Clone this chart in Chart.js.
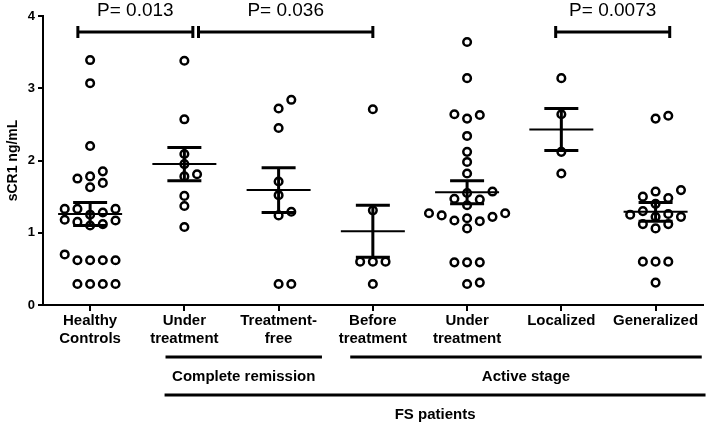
<!DOCTYPE html>
<html>
<head>
<meta charset="utf-8">
<script src="https://cdn.jsdelivr.net/npm/chart.js@4/dist/chart.umd.min.js"></script>
<style>
  body { margin: 0; background: #fff; }
  canvas { display: block; }
</style>
</head>
<body>
<canvas id="c" width="709" height="424"></canvas>
<script>
// sCR1 dot plot, mean +/- SEM per group

var xLabels = [
    ['Healthy', 'Controls'],
    ['Under', 'treatment'],
    ['Treatment-', 'free'],
    ['Before', 'treatment'],
    ['Under', 'treatment'],
    ['Localized'],
    ['Generalized']
];

var healthy = [3.39, 3.07, 2.20, 1.85, 1.78, 1.75, 1.69, 1.63, 1.33, 1.33, 1.33, 1.28, 1.25, 1.18, 1.17, 1.15, 1.12, 1.10, 0.70, 0.62, 0.62, 0.62, 0.62, 0.29, 0.29, 0.29, 0.29];
var crUnder = [3.38, 2.57, 2.09, 1.95, 1.81, 1.78, 1.51, 1.37, 1.08];
var crFree = [2.84, 2.72, 2.45, 1.71, 1.52, 1.29, 1.24, 0.29, 0.29];
var asBefore = [2.71, 1.31, 0.60, 0.60, 0.60, 0.29];
var asUnder = [3.64, 3.14, 2.64, 2.63, 2.58, 2.34, 2.12, 1.98, 1.82, 1.57, 1.55, 1.47, 1.46, 1.38, 1.27, 1.27, 1.24, 1.22, 1.20, 1.17, 1.16, 1.06, 0.59, 0.59, 0.59, 0.31, 0.29];
var localized = [3.14, 2.64, 2.12, 1.82];
var generalized = [2.62, 2.58, 1.59, 1.57, 1.50, 1.48, 1.40, 1.30, 1.26, 1.25, 1.22, 1.22, 1.12, 1.12, 1.06, 0.60, 0.60, 0.60, 0.31];

var groups = [healthy, crUnder, crFree, asBefore, asUnder, localized, generalized];
var means = [1.26, 1.95, 1.59, 1.02, 1.56, 2.43, 1.29];
var sems = [0.16, 0.23, 0.31, 0.36, 0.16, 0.29, 0.13];

var yTicks = [0, 1, 2, 3, 4];

var brackets = [
    { from: -0.13, to: 1.09, y: 3.78, text: 'P= 0.013' },
    { from: 1.15, to: 3.0, y: 3.78, text: 'P= 0.036' },
    { from: 4.94, to: 6.15, y: 3.78, text: 'P= 0.0073' }
];

var groupBars = [
    { from: 0.80, to: 2.46, row: 0, text: 'Complete remission' },
    { from: 2.76, to: 6.49, row: 0, text: 'Active stage' },
    { from: 0.79, to: 6.53, row: 1, text: 'FS patients' }
];

var FONT = "'Liberation Sans', Arial, sans-serif";

var meanPlugin = {
    id: 'meanSem',
    afterDatasetsDraw: function (chart) {
        var ctx = chart.ctx, xs = chart.scales.x, ys = chart.scales.y;
        ctx.save();
        ctx.strokeStyle = '#000';
        means.forEach(function (m, i) {
            var cx = xs.getPixelForValue(i);
            var pm = ys.getPixelForValue(m);
            var hi = ys.getPixelForValue(m + sems[i]);
            var lo = ys.getPixelForValue(m - sems[i]);
            ctx.lineWidth = 2;
            ctx.beginPath();
            ctx.moveTo(cx - 32, pm); ctx.lineTo(cx + 32, pm);
            ctx.stroke();
            ctx.lineWidth = 3;
            ctx.beginPath();
            ctx.moveTo(cx, hi); ctx.lineTo(cx, lo);
            ctx.moveTo(cx - 17, hi); ctx.lineTo(cx + 17, hi);
            ctx.moveTo(cx - 17, lo); ctx.lineTo(cx + 17, lo);
            ctx.stroke();
        });
        ctx.restore();
    },
    afterDraw: function (chart) {
        var ctx = chart.ctx, xs = chart.scales.x, ys = chart.scales.y;
        var base = chart.chartArea.bottom;
        ctx.save();
        ctx.strokeStyle = '#000';
        ctx.fillStyle = '#000';
        ctx.lineWidth = 3;
        ctx.textAlign = 'center';
        ctx.textBaseline = 'middle';

        // significance brackets
        ctx.font = '19px ' + FONT;
        brackets.forEach(function (b) {
            var x1 = xs.getPixelForValue(b.from), x2 = xs.getPixelForValue(b.to);
            var py = ys.getPixelForValue(b.y);
            ctx.beginPath();
            ctx.moveTo(x1, py); ctx.lineTo(x2, py);
            ctx.moveTo(x1, py - 6); ctx.lineTo(x1, py + 6);
            ctx.moveTo(x2, py - 6); ctx.lineTo(x2, py + 6);
            ctx.stroke();
            ctx.fillText(b.text, (x1 + x2) / 2, py - 21);
        });

        // grouping lines under the axis
        ctx.font = 'bold 15px ' + FONT;
        groupBars.forEach(function (g) {
            var x1 = xs.getPixelForValue(g.from), x2 = xs.getPixelForValue(g.to);
            var ly = base + 52 + g.row * 38;
            ctx.beginPath();
            ctx.moveTo(x1, ly); ctx.lineTo(x2, ly);
            ctx.stroke();
            ctx.fillText(g.text, (x1 + x2) / 2, ly + 20);
        });
        ctx.restore();
    }
};

var datasets = groups.map(function (vals, i) {
    return {
        data: vals.map(function (v) { return { x: i, y: v }; }),
        pointRadius: 3.8,
        pointHoverRadius: 3.8,
        borderWidth: 2.5,
        borderColor: '#000',
        backgroundColor: 'rgba(0,0,0,0)'
    };
});

var chart = new Chart(document.getElementById('c'), {
    type: 'scatter',
    data: { datasets: datasets },
    options: {
        responsive: false,
        animation: false,
        layout: { padding: { top: 16, right: 4, bottom: 74, left: 0 } },
        plugins: { legend: { display: false }, tooltip: { enabled: false } },
        scales: {
            x: {
                type: 'linear',
                min: -0.5,
                max: 6.5,
                afterBuildTicks: function (s) {
                    s.ticks = xLabels.map(function (l, i) { return { value: i }; });
                },
                afterFit: function (s) { s.height = 45; },
                ticks: {
                    autoSkip: false,
                    maxRotation: 0,
                    color: '#000',
                    padding: 1,
                    font: { family: FONT, size: 15, weight: 'bold', lineHeight: 1.2 },
                    callback: function (v) { return xLabels[v]; }
                },
                grid: { drawOnChartArea: false, drawTicks: true, tickLength: 6, color: '#000', lineWidth: 2 },
                border: { color: '#000', width: 2 }
            },
            y: {
                min: 0,
                max: 4,
                afterBuildTicks: function (s) {
                    s.ticks = yTicks.map(function (v) { return { value: v }; });
                },
                afterFit: function (s) { s.width = 43; },
                ticks: {
                    color: '#000',
                    padding: 3,
                    font: { family: FONT, size: 13, weight: 'bold' }
                },
                title: {
                    display: true,
                    text: 'sCR1 ng/mL',
                    color: '#000',
                    padding: { top: 5, bottom: 0 },
                    font: { family: FONT, size: 14, weight: 'bold' }
                },
                grid: { drawOnChartArea: false, drawTicks: true, tickLength: 5, color: '#000', lineWidth: 2 },
                border: { color: '#000', width: 2 }
            }
        }
    },
    plugins: [meanPlugin]
});

// spread tied values sideways like a column scatter plot
var GAP = 12.7, MIN_DIST = 9.5;
function swarm(vals, i) {
    var xs = chart.scales.x, ys = chart.scales.y;
    var cx = xs.getPixelForValue(i);
    var placed = [];
    var out = [];
    var order = vals.map(function (v, k) { return k; }).sort(function (a, b) { return vals[a] - vals[b]; });
    order.forEach(function (k) {
        var py = ys.getPixelForValue(vals[k]);
        for (var n = 0; n < 30; n++) {
            var step = n === 0 ? 0 : (n % 2 ? (n + 1) / 2 : -n / 2);
            var px = cx + step * GAP;
            var ok = placed.every(function (p) { return Math.hypot(p[0] - px, p[1] - py) >= MIN_DIST; });
            if (ok) {
                placed.push([px, py]);
                out[k] = { x: xs.getValueForPixel(px), y: vals[k] };
                break;
            }
        }
    });
    return out;
}

groups.forEach(function (vals, i) {
    chart.data.datasets[i].data = swarm(vals, i);
});
chart.update('none');
</script>
</body>
</html>
